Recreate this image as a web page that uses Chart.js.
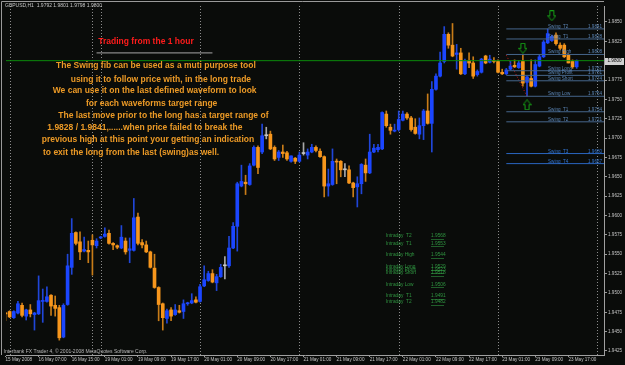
<!DOCTYPE html>
<html><head><meta charset="utf-8">
<script src="https://cdn.jsdelivr.net/npm/chart.js@4.4.1/dist/chart.umd.min.js"></script>
<style>html,body{margin:0;padding:0;background:#0a0c0a;overflow:hidden}canvas{display:block}</style>
</head><body>
<canvas id="c" width="625" height="365"></canvas>
<script>
// ---------- DATA (GBPUSD H1, bar 0 = 15 May 2008 23:00) ----------
const opens  = [1.9474,1.9476,1.9468,1.9474,1.9484,1.9470,1.9478,1.9472,1.9473,1.9489,1.9489,1.9497,1.9484,1.9481,1.9443,1.9485,1.9533,1.9578,1.9566,1.9554,1.9555,1.9568,1.9561,1.9571,1.9573,1.9577,1.9564,1.9561,1.9558,1.9567,1.9555,1.9555,1.9598,1.9565,1.9562,1.9553,1.9532,1.9507,1.9486,1.9467,1.9478,1.9472,1.9477,1.9476,1.9486,1.9487,1.9491,1.9489,1.9509,1.9516,1.9525,1.9513,1.9521,1.9535,1.9535,1.9558,1.9586,1.9638,1.9643,1.9640,1.9665,1.9688,1.9682,1.9703,1.9705,1.9688,1.9675,1.9682,1.9681,1.9670,1.9674,1.9670,1.9680,1.9678,1.9682,1.9688,1.9683,1.9676,1.9638,1.9640,1.9670,1.9670,1.9659,1.9659,1.9642,1.9637,1.9641,1.9665,1.9655,1.9682,1.9685,1.9686,1.9731,1.9714,1.9709,1.9711,1.9723,1.9731,1.9726,1.9714,1.9705,1.9716,1.9735,1.9719,1.9763,1.9780,1.9799,1.9834,1.9820,1.9808,1.9810,1.9783,1.9800,1.9797,1.9782,1.9785,1.9806,1.9798,1.9800,1.9799,1.9785,1.9783,1.9789,1.9794,1.9791,1.9799,1.9772,1.9777,1.9767,1.9793,1.9805,1.9823,1.9826,1.9833,1.9820,1.9820,1.9807,1.9799,1.9792];
const highs  = [1.9475,1.9477,1.9477,1.9489,1.9487,1.9479,1.9485,1.9475,1.9522,1.9505,1.9508,1.9498,1.9496,1.9484,1.9486,1.9550,1.9596,1.9579,1.9579,1.9572,1.9567,1.9575,1.9570,1.9573,1.9584,1.9581,1.9565,1.9562,1.9587,1.9571,1.9571,1.9622,1.9603,1.9569,1.9567,1.9554,1.9550,1.9508,1.9487,1.9479,1.9481,1.9485,1.9484,1.9491,1.9488,1.9499,1.9495,1.9511,1.9535,1.9528,1.9530,1.9524,1.9537,1.9547,1.9573,1.9591,1.9643,1.9665,1.9652,1.9667,1.9690,1.9690,1.9718,1.9714,1.9709,1.9690,1.9684,1.9691,1.9683,1.9677,1.9675,1.9682,1.9694,1.9686,1.9692,1.9690,1.9686,1.9677,1.9660,1.9686,1.9673,1.9671,1.9667,1.9664,1.9643,1.9650,1.9667,1.9673,1.9705,1.9692,1.9692,1.9734,1.9735,1.9718,1.9718,1.9735,1.9735,1.9733,1.9728,1.9725,1.9726,1.9737,1.9757,1.9773,1.9783,1.9811,1.9844,1.9836,1.9848,1.9821,1.9816,1.9802,1.9810,1.9805,1.9788,1.9803,1.9807,1.9807,1.9804,1.9801,1.9789,1.9790,1.9799,1.9801,1.9800,1.9807,1.9780,1.9801,1.9801,1.9807,1.9826,1.9841,1.9833,1.9836,1.9823,1.9822,1.9809,1.9801,1.9801];
const lows   = [1.9464,1.9468,1.9467,1.9473,1.9469,1.9465,1.9469,1.9452,1.9472,1.9462,1.9488,1.9471,1.9470,1.9439,1.9442,1.9484,1.9524,1.9562,1.9543,1.9553,1.9539,1.9523,1.9558,1.9570,1.9572,1.9563,1.9556,1.9557,1.9557,1.9550,1.9539,1.9554,1.9562,1.9558,1.9552,1.9532,1.9506,1.9464,1.9452,1.9461,1.9464,1.9471,1.9474,1.9467,1.9484,1.9486,1.9487,1.9488,1.9508,1.9515,1.9513,1.9503,1.9520,1.9518,1.9533,1.9557,1.9554,1.9637,1.9627,1.9639,1.9664,1.9654,1.9680,1.9699,1.9685,1.9671,1.9671,1.9675,1.9671,1.9669,1.9667,1.9669,1.9678,1.9673,1.9681,1.9682,1.9675,1.9624,1.9625,1.9639,1.9641,1.9650,1.9650,1.9641,1.9624,1.9611,1.9628,1.9644,1.9654,1.9681,1.9682,1.9685,1.9714,1.9705,1.9708,1.9709,1.9722,1.9724,1.9709,1.9705,1.9699,1.9698,1.9718,1.9682,1.9762,1.9779,1.9797,1.9816,1.9805,1.9789,1.9782,1.9782,1.9791,1.9777,1.9780,1.9784,1.9796,1.9797,1.9797,1.9784,1.9782,1.9782,1.9788,1.9791,1.9790,1.9767,1.9754,1.9766,1.9766,1.9792,1.9804,1.9822,1.9825,1.9820,1.9814,1.9804,1.9797,1.9790,1.9790];
const closes = [1.9473,1.9469,1.9476,1.9486,1.9471,1.9478,1.9473,1.9474,1.9490,1.9490,1.9495,1.9483,1.9480,1.9442,1.9484,1.9535,1.9577,1.9564,1.9553,1.9556,1.9553,1.9562,1.9567,1.9572,1.9576,1.9564,1.9562,1.9559,1.9572,1.9553,1.9557,1.9597,1.9564,1.9562,1.9553,1.9533,1.9507,1.9485,1.9468,1.9477,1.9470,1.9478,1.9475,1.9486,1.9487,1.9490,1.9488,1.9508,1.9517,1.9525,1.9514,1.9521,1.9533,1.9535,1.9558,1.9586,1.9641,1.9644,1.9641,1.9664,1.9688,1.9662,1.9703,1.9703,1.9686,1.9673,1.9682,1.9680,1.9673,1.9677,1.9670,1.9678,1.9680,1.9682,1.9688,1.9684,1.9676,1.9638,1.9641,1.9670,1.9669,1.9659,1.9659,1.9642,1.9636,1.9641,1.9666,1.9655,1.9682,1.9687,1.9688,1.9733,1.9716,1.9710,1.9710,1.9724,1.9731,1.9726,1.9711,1.9706,1.9716,1.9735,1.9719,1.9763,1.9780,1.9797,1.9834,1.9820,1.9806,1.9810,1.9783,1.9800,1.9797,1.9780,1.9786,1.9802,1.9797,1.9802,1.9799,1.9785,1.9783,1.9788,1.9793,1.9792,1.9797,1.9771,1.9779,1.9767,1.9795,1.9805,1.9824,1.9835,1.9831,1.9822,1.9816,1.9805,1.9797,1.9792,1.9800];

const xTickIdx    = [0,8,16,24,32,40,48,56,64,72,80,88,96,104,112,120,128,136];
const xTickLabels = ['15 May 2008','16 May 07:00','16 May 15:00','19 May 01:00','19 May 09:00','19 May 17:00','20 May 01:00','20 May 09:00','20 May 17:00','21 May 01:00','21 May 09:00','21 May 17:00','22 May 01:00','22 May 09:00','22 May 17:00','23 May 01:00','23 May 09:00','23 May 17:00'];
const yTickLabels = ['1.9850','1.9825','1.9800','1.9775','1.9750','1.9725','1.9700','1.9675','1.9650','1.9625','1.9600','1.9575','1.9550','1.9525','1.9500','1.9475','1.9450','1.9425'];

const headerText = 'GBPUSD,H1  1.9792 1.9801 1.9798 1.9800';
const copyrightText = 'Interbank FX Trader 4, \u00a9 2001-2008 MetaQuotes Software Corp.';
const bidPrice = 1.9800;
const separatorBars = [1,21,23,47,71,95,119,143];

const swingNames  = ['Swing  T2','Swing  T1','Swing High','Swing Long','Swing Profit','Swing Short','Swing Low','Swing  T1','Swing  T2'];
const swingLevels = [1.9841,1.9828,1.9808,1.9787,1.9781,1.9774,1.9754,1.9734,1.9721];
const extNames    = ['Swing  T3','Swing  T4'];
const extLevels   = [1.9680,1.9667];
const swingStartBar = 121;

const trendBars   = [121,126];
const trendPrices = [1.9807,1.9754];
const ruleBars    = [22,50];
const rulePrices  = [1.9810,1.9810];
const downArrowBars = [125,132];
const downArrowPrices = [1.9816,1.9858];
const upArrowBars = [126];
const upArrowPrices = [1.9743];

const intradayNames  = ['Intraday  T2','Intraday  T1','Intraday High','Intraday Long','Intraday Profit','Intraday Short','Intraday Low','Intraday  T1','Intraday  T2'];
const intradayValues = ['1.9568','1.9553','1.9544','1.9529','1.9523','1.9518','1.9506','1.9491','1.9482'];

const titleText = 'Trading from the 1 hour';
const noteLines = [
  'The Swing fib can be used as a muti purpose tool',
  'using it to follow price with, in the long trade',
  'We can use it on the last defined waveform to look',
  'for each waveforms target range',
  'The last move prior to the long has a target range of',
  '1.9828 / 1.9841,......when price failed to break the',
  'previous high at this point your getting an indication',
  'to exit the long from the last (swing)as well.'
];

// ---------- LAYOUT / STYLE ----------
const xMin = 0.12, xMax = 144.6;
const yMin = 1.94198, yMax = 1.98706;
const BG = '#0a0c0a';
const BULL = '#1b46ff', BEAR = '#f7961c', DOJI = '#c8c8c8';
const BULLW = '#2046d8', BEARW = '#c87c18', DOJIW = '#a8a8a8';
const AXIS_TXT = '#c4c4c4';
const FONT = 'Liberation Sans, Arial, sans-serif';
const notePos = [[56,65.7],[70.7,79.5],[52.7,91],[86,103.5],[58.3,116],[47.3,128],[41.7,140],[43,152.5]];
const titlePos = [98.3,41.7];
const intradayY = [236,243.3,254.5,266.5,269.5,272.8,284.4,296,302];

const idx = opens.map((_, i) => i);
const dir = i => closes[i] > opens[i] ? 1 : (closes[i] < opens[i] ? -1 : 0);
const bodyData = idx.map(i => ({x: i, y: [opens[i], closes[i]]}));
const wickData = idx.map(i => ({x: i, y: [lows[i], highs[i]]}));
const levelLines = (levels) => {
  const d = [];
  levels.forEach(p => { d.push({x: swingStartBar, y: p}, {x: xMax, y: p}, {x: xMax, y: null}); });
  return d;
};
const pairs = (xs, ys) => xs.map((x, k) => ({x, y: ys[k]}));
const yTickValues = yTickLabels.map(Number);

function arrowImg(down) {
  const c = document.createElement('canvas');
  c.width = 9; c.height = 11;
  const g = c.getContext('2d');
  g.strokeStyle = '#16a016'; g.lineWidth = 1;
  const pts = [[2.5,0.5],[6.5,0.5],[6.5,5.5],[8.5,5.5],[4.5,10.5],[0.5,5.5],[2.5,5.5]];
  g.beginPath();
  pts.forEach(([x, y], k) => { const yy = down ? y : 11 - y; if (k) g.lineTo(x, yy); else g.moveTo(x, yy); });
  g.closePath(); g.stroke();
  return c;
}

const overlay = {
  id: 'overlay',
  beforeDraw(chart) {
    const ctx = chart.ctx;
    ctx.save(); ctx.fillStyle = BG; ctx.fillRect(0, 0, chart.width, chart.height); ctx.restore();
  },
  beforeDatasetsDraw(chart) {
    const {ctx, chartArea: a, scales: {x}} = chart;
    ctx.save();
    ctx.strokeStyle = '#8c8c8c'; ctx.lineWidth = 1; ctx.setLineDash([1, 2]);
    separatorBars.forEach(b => {
      const px = Math.round(x.getPixelForValue(b)) + 0.5;
      ctx.beginPath(); ctx.moveTo(px, a.top); ctx.lineTo(px, a.bottom); ctx.stroke();
    });
    ctx.restore();
  },
  afterDraw(chart) {
    const {ctx, chartArea: a, scales: {x, y}} = chart;
    ctx.save();
    // frame
    ctx.strokeStyle = '#9a9a9a'; ctx.lineWidth = 1;
    ctx.beginPath(); ctx.moveTo(1.5, a.bottom); ctx.lineTo(1.5, 1.5); ctx.lineTo(a.right, 1.5); ctx.stroke();
    ctx.textBaseline = 'middle'; ctx.textAlign = 'left';
    // header + copyright
    ctx.fillStyle = '#c8c8c8'; ctx.font = '5px ' + FONT;
    ctx.fillText(headerText, 5, 5.2);
    ctx.fillStyle = '#b8b8b8';
    ctx.fillText(copyrightText, 3.5, 351.7);
    // title + notes
    ctx.font = 'bold 8.5px ' + FONT;
    ctx.fillStyle = '#ff1c1c';
    ctx.fillText(titleText, titlePos[0], titlePos[1]);
    ctx.fillStyle = '#ec9a26';
    noteLines.forEach((t, k) => ctx.fillText(t, notePos[k][0], notePos[k][1]));
    // swing labels
    ctx.font = '4.6px ' + FONT; ctx.textBaseline = 'bottom';
    ctx.fillStyle = '#5a84b4';
    swingNames.forEach((t, k) => {
      const py = y.getPixelForValue(swingLevels[k]);
      ctx.fillText(t, 548, py);
      ctx.fillText(swingLevels[k].toFixed(4), 588, py);
    });
    ctx.fillStyle = '#3274d0';
    extNames.forEach((t, k) => {
      const py = y.getPixelForValue(extLevels[k]);
      ctx.fillText(t, 548, py);
      ctx.fillText(extLevels[k].toFixed(4), 588, py);
    });
    // intraday labels
    ctx.textBaseline = 'middle'; ctx.font = '4.8px ' + FONT;
    intradayNames.forEach((t, k) => {
      ctx.fillStyle = '#2f9440';
      ctx.fillText(t, 386, intradayY[k]);
      ctx.fillText(intradayValues[k], 431, intradayY[k]);
      ctx.fillRect(431, Math.round(intradayY[k]) + 3, 13, 0.6);
    });
    // bid price box
    const by = y.getPixelForValue(bidPrice);
    ctx.fillStyle = '#d0d0d0';
    ctx.fillRect(605, Math.round(by) - 3, 19, 7);
    ctx.fillStyle = '#000000'; ctx.font = '4.6px ' + FONT;
    ctx.fillText(bidPrice.toFixed(4), 607.5, by + 0.5);
    ctx.restore();
  }
};

new Chart(document.getElementById('c'), {
  type: 'bar',
  data: {
    datasets: [
      { type: 'line', data: [{x: xMin, y: bidPrice}, {x: xMax, y: bidPrice}], borderColor: '#0b8a0b', borderWidth: 1, pointRadius: 0, order: 0 },
      { type: 'line', data: levelLines(swingLevels), borderColor: '#46668c', borderWidth: 1, pointRadius: 0, spanGaps: false, order: 0 },
      { type: 'line', data: levelLines(extLevels), borderColor: '#2a66c0', borderWidth: 1, pointRadius: 0, spanGaps: false, order: 0 },
      { type: 'line', data: pairs(trendBars, trendPrices), borderColor: '#d01818', borderWidth: 1, borderDash: [1, 2], pointRadius: 0, order: 0 },
      { type: 'line', data: pairs(ruleBars, rulePrices), borderColor: '#a8a8a8', borderWidth: 1, pointRadius: 0, order: 0 },
      { type: 'line', data: pairs(downArrowBars, downArrowPrices), showLine: false, pointStyle: arrowImg(true), pointRadius: 5, order: 0 },
      { type: 'line', data: pairs(upArrowBars, upArrowPrices), showLine: false, pointStyle: arrowImg(false), pointRadius: 5, order: 0 },
      { data: bodyData, backgroundColor: c => { const d = dir(c.dataIndex); return d > 0 ? BULL : d < 0 ? BEAR : DOJI; }, barThickness: 3, minBarLength: 1, grouped: false, borderWidth: 0, order: 1 },
      { data: wickData, backgroundColor: c => { const d = dir(c.dataIndex); return d > 0 ? BULLW : d < 0 ? BEARW : DOJIW; }, barThickness: 1, grouped: false, borderWidth: 0, order: 2 }
    ]
  },
  options: {
    responsive: false, animation: false, devicePixelRatio: 1,
    layout: { padding: { left: 2, top: 2, right: 0, bottom: 0 } },
    plugins: { legend: { display: false }, tooltip: { enabled: false } },
    events: [],
    scales: {
      x: {
        type: 'linear', min: xMin, max: xMax, offset: false, position: 'bottom',
        grid: { display: true, offset: false, drawOnChartArea: false, drawTicks: true, tickLength: 2, color: '#9a9a9a' },
        border: { display: true, color: '#a0a0a0' },
        ticks: { autoSkip: false, maxRotation: 0, minRotation: 0, align: 'start', padding: 0, color: AXIS_TXT,
          font: { family: FONT, size: 4.6 },
          callback: v => { const k = xTickIdx.indexOf(v); return k >= 0 ? xTickLabels[k] : ''; } },
        afterBuildTicks: s => { s.ticks = xTickIdx.map(v => ({value: v})); },
        afterFit: s => { s.height = 10; s.paddingLeft = 0; s.paddingRight = 0; s.paddingTop = 0; s.paddingBottom = 0; }
      },
      y: {
        type: 'linear', position: 'right', min: yMin, max: yMax, beginAtZero: false,
        grid: { drawOnChartArea: false, drawTicks: true, tickLength: 3, color: '#9a9a9a' },
        border: { display: true, color: '#a0a0a0' },
        ticks: { autoSkip: false, padding: 1, color: AXIS_TXT, font: { family: FONT, size: 4.6 },
          callback: v => { const k = yTickValues.findIndex(t => Math.abs(t - v) < 1e-7); return k >= 0 ? yTickLabels[k] : ''; } },
        afterBuildTicks: s => { s.ticks = yTickValues.map(v => ({value: v})); },
        afterFit: s => { s.width = 21; s.paddingLeft = 0; s.paddingRight = 0; s.paddingTop = 0; s.paddingBottom = 0; }
      }
    }
  },
  plugins: [overlay]
});
</script>
</body></html>
